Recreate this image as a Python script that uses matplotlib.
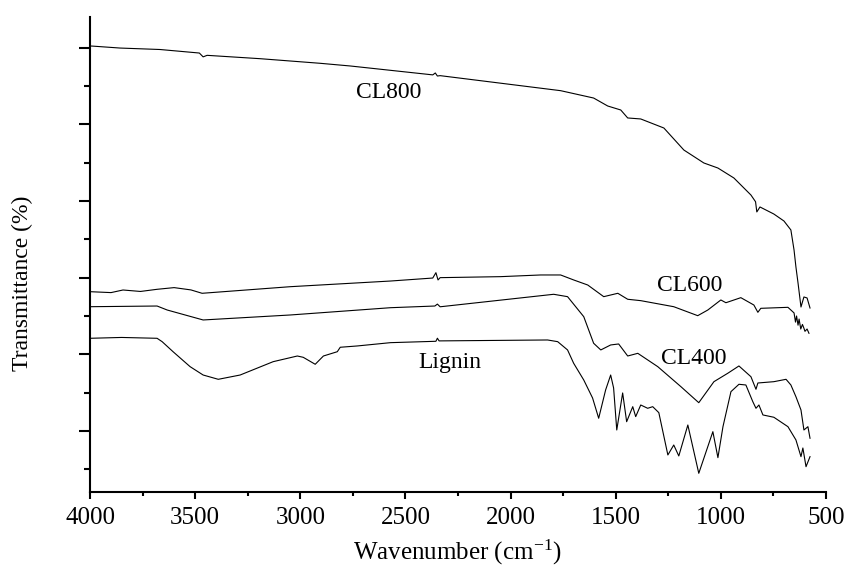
import matplotlib
matplotlib.use("Agg")
import matplotlib.pyplot as plt
from matplotlib.ticker import MultipleLocator, NullFormatter

plt.rcParams['font.family'] = ['Liberation Serif', 'DejaVu Serif']
plt.rcParams['mathtext.fontset'] = 'stix'

# ---- data (wavenumber in cm^-1, transmittance in arbitrary offset units) ----
cl800_x = [4000, 3986, 3857, 3667, 3480, 3462, 3443, 3190, 2905, 2762, 2370, 2358, 2348,
           2335, 1762, 1605, 1538, 1476, 1443, 1381, 1271, 1176, 1081, 1014, 938, 857,
           835, 829, 814, 748, 700, 667, 652, 643, 633, 619, 605, 590, 576]
cl800_y = [60.22, 60.20, 59.95, 59.76, 59.30, 58.80, 59.00, 58.56, 57.96, 57.61, 56.45,
           56.70, 56.30, 56.35, 54.39, 53.43, 52.39, 51.87, 50.83, 50.70, 49.52, 46.65,
           44.96, 44.30, 43.00, 40.78, 39.90, 38.57, 39.22, 38.30, 37.39, 36.22, 33.61,
           31.39, 29.30, 26.17, 27.48, 27.35, 26.04]

cl600_x = [4000, 3900, 3843, 3760, 3681, 3600, 3520, 3467, 3048, 2571, 2370, 2355, 2345,
           2335, 2048, 1857, 1762, 1700, 1633, 1557, 1490, 1443, 1381, 1224, 1110, 1062,
           1000, 976, 905, 843, 824, 810, 681, 652, 645, 640, 633, 628, 620, 612, 605,
           600, 590, 581]
cl600_y = [28.17, 28.05, 28.39, 28.20, 28.48, 28.70, 28.40, 27.96, 28.82, 29.56, 29.95,
           30.65, 29.70, 30.00, 30.13, 30.35, 30.35, 29.70, 29.04, 27.52, 27.96, 27.18,
           27.00, 26.21, 25.04, 25.78, 27.09, 26.73, 27.39, 26.43, 25.48, 26.00, 26.13,
           25.40, 24.20, 25.00, 23.80, 24.60, 23.30, 23.90, 23.40, 23.00, 23.30, 22.74]

cl400_x = [4000, 3681, 3633, 3462, 3048, 2571, 2360, 2348, 2335, 1795, 1729, 1652, 1605,
           1571, 1524, 1486, 1443, 1395, 1300, 1190, 1105, 1033, 967, 914, 857, 833,
           824, 748, 690, 667, 643, 619, 605, 586, 576]
cl400_y = [26.21, 26.30, 25.78, 24.48, 25.13, 26.08, 26.30, 26.55, 26.20, 27.83, 27.52,
           24.91, 21.44, 20.57, 21.22, 21.35, 19.78, 20.13, 18.39, 15.78, 13.69, 16.43,
           17.53, 18.48, 17.08, 15.44, 16.26, 16.43, 16.74, 16.00, 14.47, 12.74, 10.13,
           10.56, 9.05]

lignin_x = [4000, 3850, 3681, 3657, 3605, 3524, 3462, 3390, 3286, 3129, 3014, 2986, 2929,
            2890, 2824, 2810, 2729, 2571, 2355, 2348, 2340, 1824, 1776, 1729, 1700, 1652,
            1610, 1581, 1548, 1524, 1510, 1495, 1467, 1448, 1419, 1405, 1381, 1348, 1324,
            1295, 1252, 1224, 1200, 1157, 1105, 1038, 1014, 990, 952, 914, 881, 848, 833,
            819, 800, 748, 681, 643, 619, 610, 595, 576]
lignin_y = [22.09, 22.20, 22.09, 21.65, 20.34, 18.39, 17.30, 16.74, 17.30, 19.04, 19.78,
            19.61, 18.70, 19.78, 20.34, 20.92, 21.09, 21.52, 21.70, 22.10, 21.75, 21.87,
            21.65, 20.57, 18.83, 16.65, 14.30, 11.66, 15.35, 17.30, 15.61, 10.13, 14.96,
            11.21, 13.17, 11.87, 13.39, 12.96, 13.17, 12.39, 6.87, 8.17, 6.74, 10.78, 4.48,
            9.91, 6.52, 10.56, 15.13, 16.09, 16.00, 13.82, 12.96, 13.39, 12.09, 11.79, 10.56,
            8.83, 6.65, 7.78, 5.34, 6.65]

labels = ['CL800', 'CL600', 'CL400', 'Lignin']
label_x = [2581, 1148, 1129, 2288]
label_y = [53.43, 28.26, 18.74, 18.22]

x_ticks = [4000, 3500, 3000, 2500, 2000, 1500, 1000, 500]

fig = plt.figure(figsize=(8.53, 5.72), dpi=100)
ax = fig.add_axes([90 / 853, 80 / 572, 736 / 853, 475 / 572])

for xs, ys in [(cl800_x, cl800_y), (cl600_x, cl600_y), (cl400_x, cl400_y), (lignin_x, lignin_y)]:
    ax.plot(xs, ys, color='black', lw=0.8)

for t, lx, ly in zip(labels, label_x, label_y):
    ax.text(lx, ly, t, ha='center', va='baseline', fontsize=17)

ax.set_xlim(4000, 500)
ax.set_ylim(2.04, 64.0)
ax.set_xticks(x_ticks)
ax.xaxis.set_minor_locator(MultipleLocator(250))
ax.yaxis.set_major_locator(MultipleLocator(10))
ax.yaxis.set_minor_locator(MultipleLocator(5))
ax.yaxis.set_major_formatter(NullFormatter())

for s in ['top', 'right']:
    ax.spines[s].set_visible(False)
for s in ['left', 'bottom']:
    ax.spines[s].set_linewidth(1.5)

ax.tick_params(axis='x', which='major', direction='out', length=5, width=1.5, labelsize=18, pad=6)
ax.tick_params(axis='x', which='minor', direction='out', length=3, width=1.5)
ax.tick_params(axis='y', which='major', direction='out', length=8, width=1.5)
ax.tick_params(axis='y', which='minor', direction='out', length=4, width=1.5)

ax.set_xlabel('Wavenumber (cm$^{\\mathregular{-1}}$)', fontsize=18)
ax.xaxis.set_label_coords(0.5, -0.095)
ax.set_ylabel('Transmittance (%)', fontsize=17)
ax.yaxis.set_label_coords(-0.077, 0.44)

fig.savefig('out.png', dpi=100)
